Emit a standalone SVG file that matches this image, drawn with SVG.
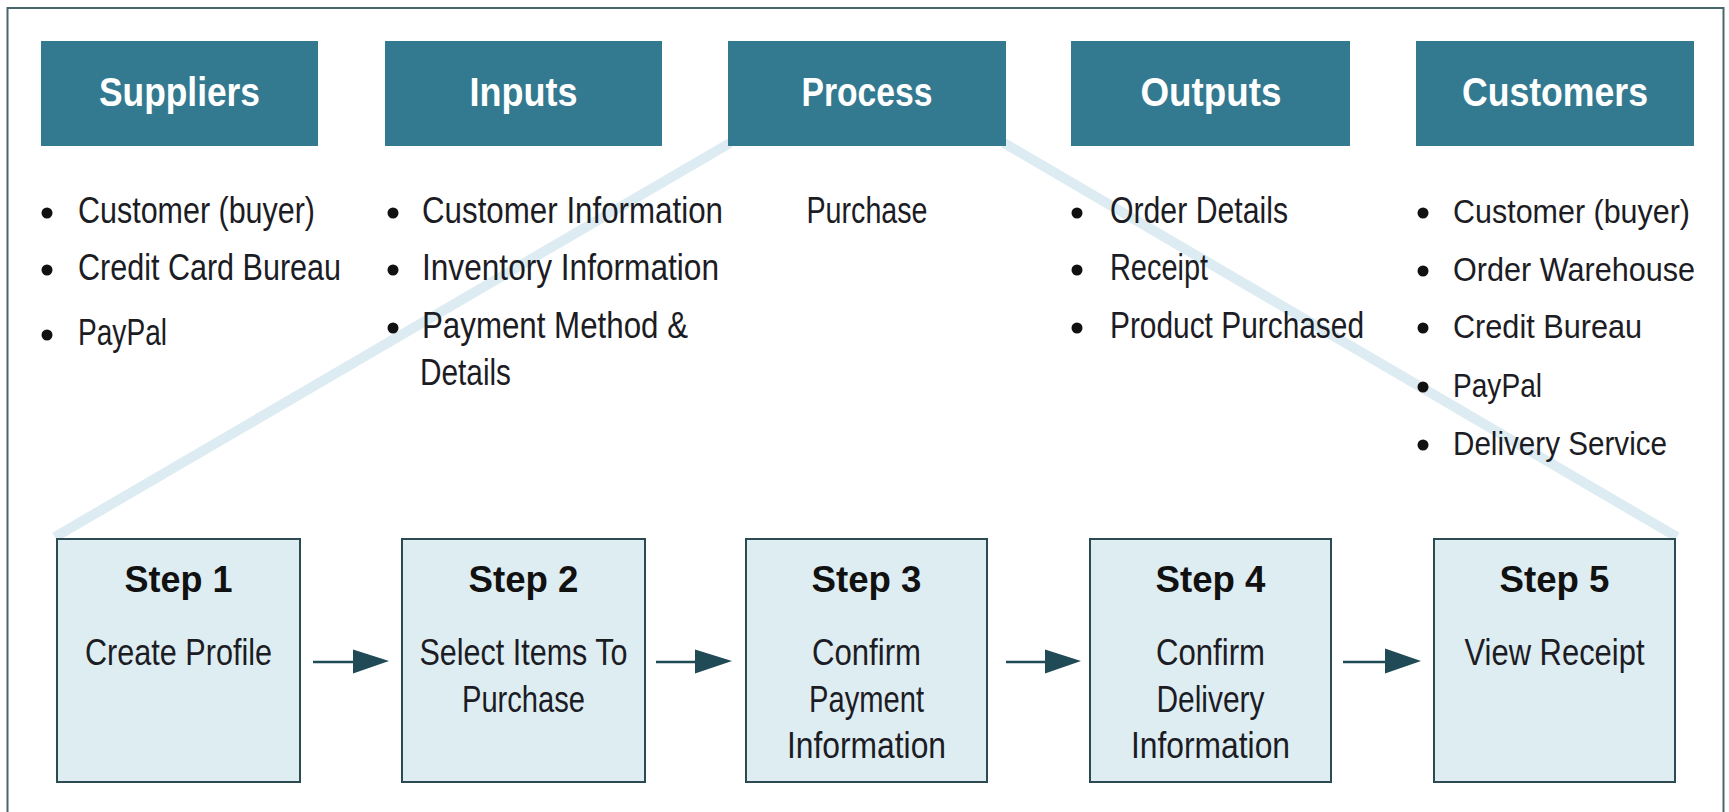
<svg xmlns="http://www.w3.org/2000/svg" width="1729" height="812" viewBox="0 0 1729 812">
<style>
.hdr{fill:#337a91}
.hdrt{font-family:"Liberation Sans",Arial,sans-serif;font-weight:bold;font-size:40px;fill:#ffffff;text-anchor:middle}
.body{font-family:"Liberation Sans",Arial,sans-serif;font-size:37px;fill:#1c1c24}
.cust{font-size:34px}
.mid{text-anchor:middle}
.stept{font-family:"Liberation Sans",Arial,sans-serif;font-weight:bold;font-size:37px;fill:#111111;text-anchor:middle}
.step{fill:#deedf2;stroke:#2c4a52;stroke-width:2}
.bul{fill:#111111}
.funnel{stroke:#dcecf2;stroke-width:10;fill:none}
.arr{stroke:#1f4a56;stroke-width:2.7;fill:none}
.head{fill:#1f4a56}
</style>
<rect x="0" y="0" width="1729" height="812" fill="#ffffff"/>
<rect x="7.5" y="8" width="1716" height="820" fill="none" stroke="#4a666d" stroke-width="2"/>

<g id="funnel">
<line class="funnel" x1="730" y1="143" x2="55" y2="537"/>
<line class="funnel" x1="1004" y1="143" x2="1677" y2="537"/>
</g>

<g id="suppliers">
<rect class="hdr" x="41" y="41" width="277" height="105"/>
<text class="hdrt" x="179.5" y="106" textLength="161" lengthAdjust="spacingAndGlyphs">Suppliers</text>
<circle class="bul" cx="47" cy="213" r="5.5"/>
<text class="body" x="78" y="223" textLength="237" lengthAdjust="spacingAndGlyphs">Customer (buyer)</text>
<circle class="bul" cx="47" cy="270" r="5.5"/>
<text class="body" x="78" y="280" textLength="263" lengthAdjust="spacingAndGlyphs">Credit Card Bureau</text>
<circle class="bul" cx="47" cy="335" r="5.5"/>
<text class="body" x="78" y="345" textLength="89" lengthAdjust="spacingAndGlyphs">PayPal</text>
</g>

<g id="inputs">
<rect class="hdr" x="385" y="41" width="277" height="105"/>
<text class="hdrt" x="523.5" y="106" textLength="108" lengthAdjust="spacingAndGlyphs">Inputs</text>
<circle class="bul" cx="393" cy="213" r="5.5"/>
<text class="body" x="422" y="223" textLength="301" lengthAdjust="spacingAndGlyphs">Customer Information</text>
<circle class="bul" cx="393" cy="270" r="5.5"/>
<text class="body" x="422" y="280" textLength="297" lengthAdjust="spacingAndGlyphs">Inventory Information</text>
<circle class="bul" cx="393" cy="328" r="5.5"/>
<text class="body" x="422" y="338" textLength="266" lengthAdjust="spacingAndGlyphs">Payment Method &amp;</text>
<text class="body" x="420" y="385" textLength="91" lengthAdjust="spacingAndGlyphs">Details</text>
</g>

<g id="process">
<rect class="hdr" x="728" y="41" width="278" height="105"/>
<text class="hdrt" x="867" y="106" textLength="131" lengthAdjust="spacingAndGlyphs">Process</text>
<text class="body mid" x="867" y="223" textLength="121" lengthAdjust="spacingAndGlyphs">Purchase</text>
</g>

<g id="outputs">
<rect class="hdr" x="1071" y="41" width="279" height="105"/>
<text class="hdrt" x="1211" y="106" textLength="141" lengthAdjust="spacingAndGlyphs">Outputs</text>
<circle class="bul" cx="1077" cy="213" r="5.5"/>
<text class="body" x="1110" y="223" textLength="178" lengthAdjust="spacingAndGlyphs">Order Details</text>
<circle class="bul" cx="1077" cy="270" r="5.5"/>
<text class="body" x="1110" y="280" textLength="98" lengthAdjust="spacingAndGlyphs">Receipt</text>
<circle class="bul" cx="1077" cy="328" r="5.5"/>
<text class="body" x="1110" y="338" textLength="254" lengthAdjust="spacingAndGlyphs">Product Purchased</text>
</g>

<g id="customers">
<rect class="hdr" x="1416" y="41" width="278" height="105"/>
<text class="hdrt" x="1555" y="106" textLength="186" lengthAdjust="spacingAndGlyphs">Customers</text>
<circle class="bul" cx="1423" cy="213" r="5.5"/>
<text class="body cust" x="1453" y="223" textLength="237" lengthAdjust="spacingAndGlyphs">Customer (buyer)</text>
<circle class="bul" cx="1423" cy="271" r="5.5"/>
<text class="body cust" x="1453" y="281" textLength="242" lengthAdjust="spacingAndGlyphs">Order Warehouse</text>
<circle class="bul" cx="1423" cy="328" r="5.5"/>
<text class="body cust" x="1453" y="338" textLength="189" lengthAdjust="spacingAndGlyphs">Credit Bureau</text>
<circle class="bul" cx="1423" cy="387" r="5.5"/>
<text class="body cust" x="1453" y="397" textLength="89" lengthAdjust="spacingAndGlyphs">PayPal</text>
<circle class="bul" cx="1423" cy="445" r="5.5"/>
<text class="body cust" x="1453" y="455" textLength="214" lengthAdjust="spacingAndGlyphs">Delivery Service</text>
</g>

<g id="step1">
<rect class="step" x="57" y="539" width="243" height="243"/>
<text class="stept" x="178.5" y="592" textLength="108" lengthAdjust="spacingAndGlyphs">Step 1</text>
<text class="body mid" x="178.5" y="665" textLength="187" lengthAdjust="spacingAndGlyphs">Create Profile</text>
</g>

<g id="step2">
<rect class="step" x="402" y="539" width="243" height="243"/>
<text class="stept" x="523.5" y="592" textLength="110" lengthAdjust="spacingAndGlyphs">Step 2</text>
<text class="body mid" x="523.5" y="665" textLength="208" lengthAdjust="spacingAndGlyphs">Select Items To</text>
<text class="body mid" x="523.5" y="712" textLength="123" lengthAdjust="spacingAndGlyphs">Purchase</text>
</g>

<g id="step3">
<rect class="step" x="746" y="539" width="241" height="243"/>
<text class="stept" x="866.5" y="592" textLength="110" lengthAdjust="spacingAndGlyphs">Step 3</text>
<text class="body mid" x="866.5" y="665" textLength="109" lengthAdjust="spacingAndGlyphs">Confirm</text>
<text class="body mid" x="866.5" y="712" textLength="115" lengthAdjust="spacingAndGlyphs">Payment</text>
<text class="body mid" x="866.5" y="758" textLength="159" lengthAdjust="spacingAndGlyphs">Information</text>
</g>

<g id="step4">
<rect class="step" x="1090" y="539" width="241" height="243"/>
<text class="stept" x="1210.5" y="592" textLength="110" lengthAdjust="spacingAndGlyphs">Step 4</text>
<text class="body mid" x="1210.5" y="665" textLength="109" lengthAdjust="spacingAndGlyphs">Confirm</text>
<text class="body mid" x="1210.5" y="712" textLength="108" lengthAdjust="spacingAndGlyphs">Delivery</text>
<text class="body mid" x="1210.5" y="758" textLength="159" lengthAdjust="spacingAndGlyphs">Information</text>
</g>

<g id="step5">
<rect class="step" x="1434" y="539" width="241" height="243"/>
<text class="stept" x="1554.5" y="592" textLength="110" lengthAdjust="spacingAndGlyphs">Step 5</text>
<text class="body mid" x="1554.5" y="665" textLength="180" lengthAdjust="spacingAndGlyphs">View Receipt</text>
</g>

<g id="connectors">
<line class="arr" x1="313" y1="662" x2="355" y2="662"/>
<polygon class="head" points="353,649.5 389,661 353,673.5"/>
<line class="arr" x1="656" y1="662" x2="697" y2="662"/>
<polygon class="head" points="695,649.5 732,661 695,673.5"/>
<line class="arr" x1="1006" y1="662" x2="1047" y2="662"/>
<polygon class="head" points="1045,649.5 1081,661 1045,673.5"/>
<line class="arr" x1="1343" y1="662" x2="1387" y2="662"/>
<polygon class="head" points="1385,648.5 1421,661 1385,673.5"/>
</g>
</svg>
